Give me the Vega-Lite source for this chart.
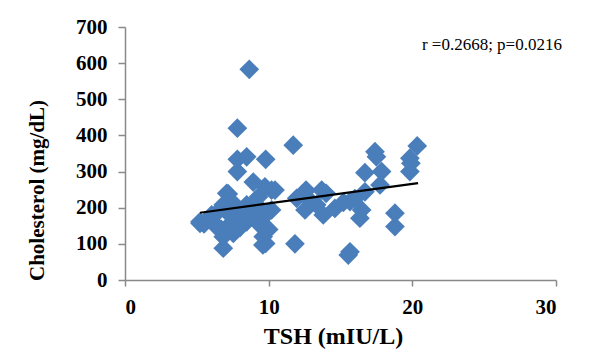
{
  "$schema": "https://vega.github.io/schema/vega-lite/v6.json",
  "autosize": {"type": "none"},
  "padding": {"left": 125, "top": 27, "right": 34, "bottom": 70},
  "width": 431,
  "height": 253,
  "background": "white",
  "config": {
    "view": {"stroke": null},
    "axis": {
      "grid": false,
      "domainColor": "#898989",
      "domainWidth": 1.5,
      "tickColor": "#898989",
      "tickWidth": 1.5,
      "labelOverlap": false,
      "labelFont": "Liberation Serif",
      "labelFontWeight": "bold",
      "labelFontSize": 21,
      "labelColor": "#000000",
      "titleFont": "Liberation Serif",
      "titleFontWeight": "bold",
      "titleColor": "#000000"
    }
  },
  "datasets": {
    "points": [
      {"tsh": 8.65, "chol": 583}, {"tsh": 7.82, "chol": 420}, {"tsh": 11.71, "chol": 373},
      {"tsh": 8.47, "chol": 341}, {"tsh": 7.82, "chol": 334}, {"tsh": 9.79, "chol": 334},
      {"tsh": 7.82, "chol": 300}, {"tsh": 8.93, "chol": 271}, {"tsh": 10.2, "chol": 249},
      {"tsh": 7.19, "chol": 238}, {"tsh": 12.6, "chol": 249}, {"tsh": 5.22, "chol": 157},
      {"tsh": 6.84, "chol": 88}, {"tsh": 9.79, "chol": 101}, {"tsh": 11.83, "chol": 100},
      {"tsh": 9.6, "chol": 97},
      {"tsh": 17.4, "chol": 355}, {"tsh": 17.5, "chol": 341}, {"tsh": 16.7, "chol": 297},
      {"tsh": 17.86, "chol": 300}, {"tsh": 17.75, "chol": 263}, {"tsh": 16.7, "chol": 244},
      {"tsh": 12.53, "chol": 244}, {"tsh": 13.69, "chol": 249}, {"tsh": 12.53, "chol": 194},
      {"tsh": 13.8, "chol": 180}, {"tsh": 14.61, "chol": 198}, {"tsh": 13.34, "chol": 208},
      {"tsh": 15.66, "chol": 217}, {"tsh": 16.47, "chol": 194}, {"tsh": 16.35, "chol": 171},
      {"tsh": 15.66, "chol": 78}, {"tsh": 15.54, "chol": 69}, {"tsh": 18.79, "chol": 185},
      {"tsh": 18.79, "chol": 148}, {"tsh": 20.34, "chol": 371}, {"tsh": 19.83, "chol": 337},
      {"tsh": 19.9, "chol": 323}, {"tsh": 19.83, "chol": 300}, {"tsh": 13.0, "chol": 215},
      {"tsh": 14.0, "chol": 240}, {"tsh": 15.2, "chol": 215}, {"tsh": 16.0, "chol": 225},
      {"tsh": 11.95, "chol": 226},
      {"tsh": 5.22, "chol": 161}, {"tsh": 6.03, "chol": 180}, {"tsh": 6.84, "chol": 208},
      {"tsh": 7.08, "chol": 240}, {"tsh": 6.38, "chol": 147}, {"tsh": 6.84, "chol": 120},
      {"tsh": 7.54, "chol": 129}, {"tsh": 7.65, "chol": 175}, {"tsh": 8.47, "chol": 208},
      {"tsh": 9.17, "chol": 203}, {"tsh": 8.47, "chol": 161}, {"tsh": 9.4, "chol": 152},
      {"tsh": 9.62, "chol": 120}, {"tsh": 10.2, "chol": 194}, {"tsh": 10.44, "chol": 249},
      {"tsh": 9.74, "chol": 258}, {"tsh": 5.5, "chol": 155}, {"tsh": 6.0, "chol": 165},
      {"tsh": 6.5, "chol": 190}, {"tsh": 7.0, "chol": 200}, {"tsh": 7.3, "chol": 180},
      {"tsh": 7.5, "chol": 160}, {"tsh": 7.9, "chol": 190}, {"tsh": 8.2, "chol": 180},
      {"tsh": 8.0, "chol": 145}, {"tsh": 8.8, "chol": 175}, {"tsh": 9.0, "chol": 215},
      {"tsh": 9.3, "chol": 230}, {"tsh": 9.9, "chol": 185}, {"tsh": 10.0, "chol": 140},
      {"tsh": 6.7, "chol": 140}, {"tsh": 7.2, "chol": 150}, {"tsh": 8.6, "chol": 200},
      {"tsh": 9.5, "chol": 170}, {"tsh": 7.6, "chol": 210}
    ],
    "trend": [
      {"tsh": 5.22, "chol": 186},
      {"tsh": 20.4, "chol": 268}
    ],
    "note": [
      {"tsh": 25.54, "chol": 650, "label": "r =0.2668; p=0.0216"}
    ]
  },
  "encoding": {
    "x": {
      "field": "tsh", "type": "quantitative",
      "scale": {"domain": [0, 30], "nice": false},
      "axis": {
        "values": [0, 10, 20, 30],
        "title": "TSH (mIU/L)",
        "labelFontSize": 21,
        "labelOverlap": false,
        "labelPadding": 10,
        "tickSize": 6,
        "titleFontSize": 24,
        "titleX": 208,
        "titleY": 63,
        "titleBaseline": "alphabetic",
        "titleAlign": "center"
      }
    },
    "y": {
      "field": "chol", "type": "quantitative",
      "scale": {"domain": [0, 700], "nice": false},
      "axis": {
        "values": [0, 100, 200, 300, 400, 500, 600, 700],
        "title": "Cholesterol (mg/dL)",
        "labelFontSize": 21,
        "labelOverlap": false,
        "labelPadding": 11,
        "tickSize": 7,
        "titleFontSize": 21,
        "titleAngle": 270,
        "titleX": -88,
        "titleY": 163,
        "titleBaseline": "middle",
        "titleAlign": "center"
      }
    }
  },
  "layer": [
    {
      "data": {"name": "points"},
      "mark": {"type": "point", "shape": "diamond", "filled": true, "size": 390, "color": "#4a7ebb", "opacity": 1}
    },
    {
      "data": {"name": "trend"},
      "mark": {"type": "line", "color": "#000000", "strokeWidth": 2.2}
    },
    {
      "data": {"name": "note"},
      "mark": {"type": "text", "font": "Liberation Serif", "fontSize": 17, "align": "center", "baseline": "middle", "color": "#000000"},
      "encoding": {
        "text": {"field": "label"}
      }
    }
  ]
}
